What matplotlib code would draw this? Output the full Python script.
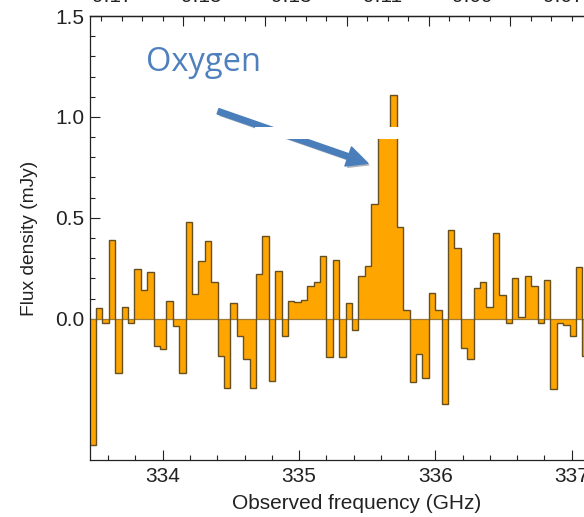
import numpy as np
import matplotlib
matplotlib.use("Agg")
import matplotlib.pyplot as plt
from matplotlib.patches import Rectangle
from matplotlib import patheffects as pe

# ---- data ----
flux_mJy = [-0.626, 0.055, -0.020, 0.390, -0.267, 0.056, -0.020, 0.248, 0.144, 0.230,
            -0.133, -0.150, 0.089, -0.038, -0.270, 0.480, 0.123, 0.287, 0.383, 0.180,
            -0.187, -0.344, 0.080, -0.084, -0.200, -0.344, 0.224, 0.410, -0.308, 0.238,
            -0.084, 0.086, 0.081, 0.094, 0.160, 0.182, 0.310, -0.190, 0.290, -0.190,
            0.078, -0.055, 0.212, 0.260, 0.566, 0.930, 0.910, 1.109, 0.454, 0.045,
            -0.313, -0.176, -0.295, 0.128, 0.043, -0.422, 0.442, 0.351, -0.144, -0.202,
            0.151, 0.184, 0.060, 0.426, 0.116, -0.021, 0.202, 0.008, 0.210, 0.162,
            -0.021, 0.190, -0.349, -0.023, -0.030, -0.086, 0.258, -0.184]
first_channel_edge_GHz = 333.464
channel_width_GHz = 0.04694

x_major_ticks = [334, 335, 336, 337]
y_major_ticks = [0.0, 0.5, 1.0, 1.5]
y_tick_labels = ["0.0", "0.5", "1.0", "1.5"]
top_major_ticks = [334.15, 334.75, 335.35, 335.95, 336.55]
top_redshift_labels = [9.17, 9.15, 9.13, 9.11, 9.09, 9.07]
oiii_rest_GHz = 3393.006

xlim = (333.4667, 337.090)
ylim = (-0.70, 1.50)

edges = first_channel_edge_GHz + channel_width_GHz * np.arange(len(flux_mJy) + 1)

# ---- figure ----
plt.rcParams['font.family'] = ['Liberation Sans', 'DejaVu Sans']
fig = plt.figure(figsize=(5.84, 5.17), dpi=100)
ax = fig.add_axes([90/584, 57/517, (584-90)/584, 444/517])

fill_col = '#FFA500'
edge_col = '#66501f'
ax.stairs(flux_mJy, edges, baseline=0, fill=True, color=fill_col, lw=0, zorder=2)
ax.axhline(0, color='#a07b35', lw=0.9, zorder=3)
ax.stairs(flux_mJy, edges, baseline=None, color=edge_col, lw=1.0, zorder=4)

ax.set_xlim(*xlim)
ax.set_ylim(*ylim)

ax.set_xticks(x_major_ticks)
ax.set_xticks(np.arange(333.6, 337.1, 0.2), minor=True)
ax.set_yticks(y_major_ticks)
ax.set_yticklabels(y_tick_labels)
ax.set_yticks(np.arange(-0.6, 1.45, 0.1), minor=True)

ax.tick_params(which='both', direction='in', width=0.8, color='#222222',
               labelsize=15, labelcolor='#222222', zorder=6)
ax.tick_params(which='major', length=7)
ax.tick_params(which='minor', length=3.6)
ax.tick_params(axis='x', pad=5)
ax.tick_params(axis='y', pad=4)
ax.spines['right'].set_visible(False)
for s in ['left', 'bottom', 'top']:
    ax.spines[s].set_linewidth(0.9)
    ax.spines[s].set_color('#222222')
    ax.spines[s].set_zorder(7)

ax.set_xlabel('Observed frequency (GHz)', fontsize=15, color='#222222')
ax.xaxis.set_label_coords((357 - 90) / 494, -34 / 444)
ax.set_ylabel('Flux density (mJy)', fontsize=13.8, color='#222222')
ax.yaxis.set_label_coords(-52 / 494, 0.5)

sec = ax.secondary_xaxis('top')
sec.set_xticks(top_major_ticks)
sec.set_xticks(np.arange(333.55, 337.1, 0.15), minor=True)
sec.tick_params(which='both', direction='in', width=0.8, color='#222222', labeltop=False)
sec.tick_params(which='major', length=7)
sec.tick_params(which='minor', length=3.6)
sec.spines['top'].set_linewidth(0.9)

# cut-off redshift labels along the very top
for z in top_redshift_labels:
    ax.annotate(f"{z:.2f}", xy=(oiii_rest_GHz / (1 + z), 1.0),
                xycoords=('data', 'axes fraction'), xytext=(0, 10),
                textcoords='offset points', ha='center', va='baseline',
                fontsize=15, color='#222222', annotation_clip=False)

# annotation arrow + label
arrow_col = '#4a7ebb'
ann = ax.annotate('', xy=(335.505, 0.77), xytext=(334.406, 1.028),
                  arrowprops=dict(arrowstyle='simple,head_width=1.45,head_length=1.5,tail_width=0.4',
                                  mutation_scale=10, color=arrow_col, shrinkA=0, shrinkB=0),
                  zorder=8)
ann.arrow_patch.set_path_effects([pe.SimplePatchShadow(offset=(1.5, -1.5), alpha=0.35), pe.Normal()])
ax.add_patch(Rectangle((334.677, 0.889), 1.062, 0.061, facecolor='white',
                       edgecolor='none', zorder=9))
ax.text(333.875, 1.2285, 'Oxygen', fontsize=23.5, family=['Open Sans', 'DejaVu Sans'],
        color='#4f80be', ha='left', va='baseline', zorder=10)

fig.savefig('out.png', dpi=100)
